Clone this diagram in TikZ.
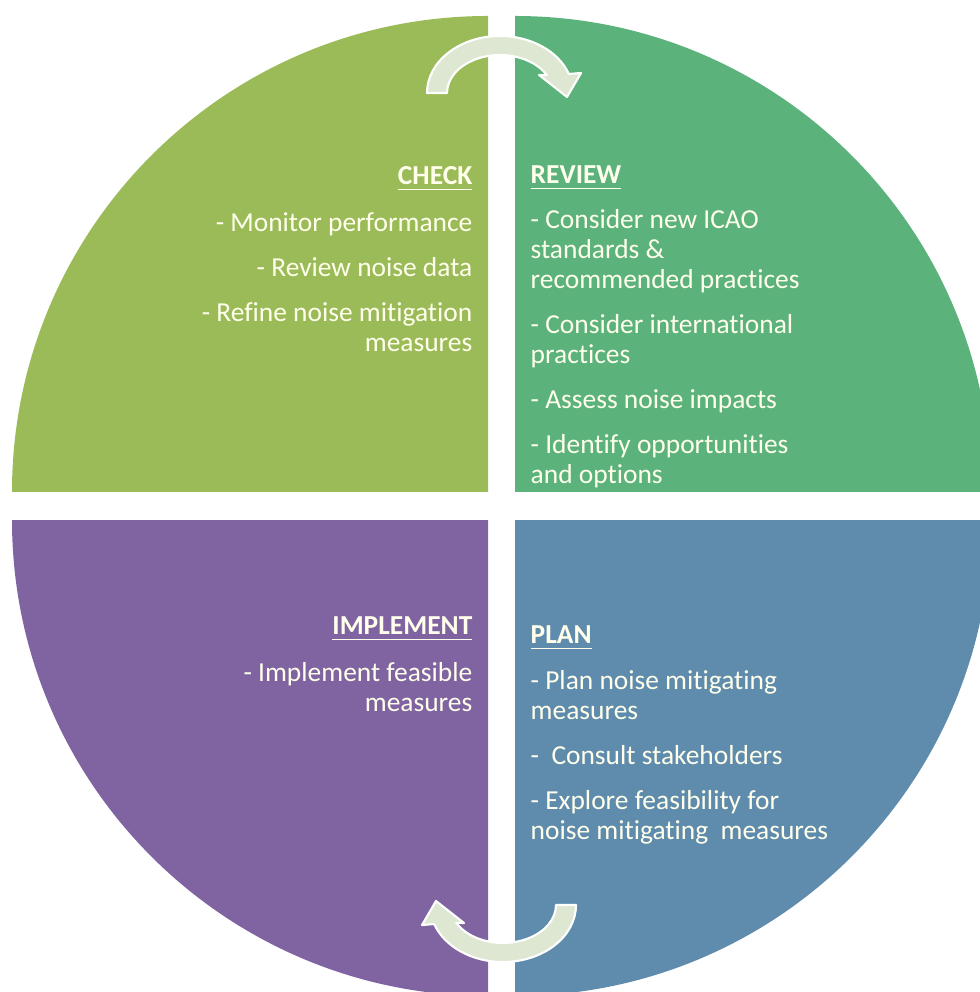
\documentclass[tikz,border=0pt]{standalone}
\usepackage{fontspec}
\setmainfont{Carlito}[Ligatures=NoCommon]
\definecolor{checkgreen}{HTML}{9BBB59}
\definecolor{reviewgreen}{HTML}{5BB27B}
\definecolor{implpurple}{HTML}{8064A2}
\definecolor{planblue}{HTML}{5F8CAD}
\definecolor{arrowfill}{HTML}{DEE7D2}
\definecolor{labeltext}{HTML}{FFFFEC}
\begin{document}
\begin{tikzpicture}[x=0.01cm, y=-0.01cm, line join=round,
    stage/.style={inner sep=0pt, text=labeltext, font=\fontsize{7.8}{8.5}\selectfont},
    cyclearrow/.style={fill=arrowfill, draw=white, line width=0.6pt}]
  \path[use as bounding box](0,0)rectangle(980,992);
  \begin{scope}
    \clip(0,0)rectangle(980,992);
    \foreach \x/\y/\a/\c in{488/492/180/checkgreen,515/492/270/reviewgreen,488/520/90/implpurple,515/520/0/planblue}
    \fill[\c](\x,\y)--++(\a:476)arc[start angle=\a, delta angle=90, radius=476]--cycle;
  \end{scope}
  \foreach \r in{0,180}
  \draw[cyclearrow, rotate around={\r:(501.5,499)}](427,93)arc[start angle=180, end angle=340.5, x radius=73, y radius=57]--(581,73)--(567,97)--(539,75)--(546.8,75.2)arc[start angle=332, end angle=180, x radius=53, y radius=38]--cycle;
  \node[stage, anchor=north east, align=right](check)at(473,166){\textbf{\underline{CHECK}}\\[4.8pt]- Monitor performance\\[4.3pt]- Review noise data\\[4.3pt]- Refine noise mitigation\\measures};
  \node[stage, anchor=north west, align=left](review)at(530,165){\textbf{\underline{REVIEW}}\\[4.3pt]- Consider new ICAO\\standards \&\\recommended practices\\[4.3pt]- Consider international\\practices\\[4.3pt]- Assess noise impacts\\[4.3pt]- Identify opportunities\\and options};
  \node[stage, anchor=north east, align=right](implement)at(473,616){\textbf{\underline{IMPLEMENT}}\\[4.8pt]- Implement feasible\\measures};
  \node[stage, anchor=north west, align=left](plan)at(530,625){\textbf{\underline{PLAN}}\\[4.5pt]- Plan noise mitigating\\measures\\[4.3pt]-\ \ Consult stakeholders\\[4.3pt]- Explore feasibility for\\noise mitigating\ \ measures};
\end{tikzpicture}
\end{document}
